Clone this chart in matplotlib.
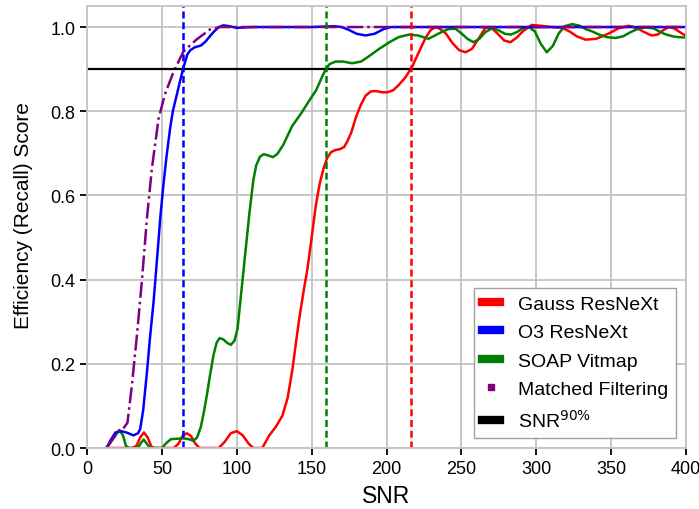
import matplotlib
matplotlib.use("Agg")
import matplotlib.pyplot as plt
from matplotlib.lines import Line2D

plt.rcParams['font.family'] = ['Liberation Sans', 'DejaVu Sans']

# Gauss ResNeXt (red)
gauss_x = [13, 30, 33, 35.5, 38, 40.5, 43, 45, 58, 61, 64, 66.7, 69.5, 72, 75, 88, 92, 96, 100,
           104, 108, 111, 117, 121.7, 126, 130.5, 134, 137.2, 139.5, 141.7, 144.5, 147.2, 150,
           152.8, 155.5, 158, 160.5, 163, 166, 169, 171.7, 174, 176.5, 179.5, 182.8, 186, 189.5,
           193, 197, 200.6, 204.5, 208.3, 212.5, 217, 221.5, 226, 229.5, 232.8, 236, 239.5, 244,
           248.5, 252.8, 257, 261, 266, 270, 274, 278.5, 282.8, 287, 291, 297, 303, 310, 317, 322,
           327, 332.8, 340, 348, 355, 361.7, 367, 372, 377, 381, 384.5, 388.3, 392, 395, 398, 400]
gauss_y = [0, 0, 0.005, 0.025, 0.037, 0.025, 0.003, 0, 0, 0.01, 0.03, 0.035, 0.028, 0.012, 0, 0,
           0.015, 0.035, 0.04, 0.03, 0.01, 0, 0, 0.03, 0.05, 0.077, 0.12, 0.188, 0.25, 0.307, 0.37,
           0.426, 0.50, 0.577, 0.63, 0.665, 0.69, 0.703, 0.708, 0.71, 0.715, 0.73, 0.75, 0.785,
           0.815, 0.837, 0.847, 0.848, 0.845, 0.845, 0.85, 0.863, 0.88, 0.905, 0.94, 0.974, 0.993,
           1.0, 0.995, 0.985, 0.962, 0.945, 0.94, 0.948, 0.97, 0.998, 0.998, 0.985, 0.968, 0.964,
           0.975, 0.99, 1.005, 1.003, 1.0, 0.998, 0.99, 0.978, 0.97, 0.972, 0.984, 0.997, 1.003,
           0.998, 0.988, 0.98, 0.982, 0.992, 1.0, 0.997, 0.99, 0.983, 0.98]

# O3 ResNeXt (blue)
o3_x = [13, 16, 19, 23, 27, 31, 34, 35.5, 37.5, 40, 42, 44.5, 47, 49, 51, 53, 55.5, 57.3, 60, 62,
        64.5, 67, 69, 72, 76, 79, 82, 85, 88, 91, 95, 100, 110, 130, 150, 165, 170, 175, 180,
        186, 192, 198, 203, 210, 250, 300, 350, 400]
o3_y = [0, 0.02, 0.037, 0.04, 0.036, 0.03, 0.035, 0.045, 0.09, 0.18, 0.26, 0.35, 0.46, 0.55, 0.625,
        0.69, 0.76, 0.8, 0.84, 0.87, 0.905, 0.935, 0.945, 0.952, 0.956, 0.965, 0.978, 0.99, 1.0,
        1.004, 1.002, 0.998, 1.0, 1.0, 1.0, 1.002, 1.0, 0.993, 0.984, 0.98, 0.984, 0.995, 1.0,
        1.0, 1.0, 1.0, 1.0, 1.0]

# SOAP Vitmap (green)
soap_x = [13, 17, 21.6, 24, 26, 28, 34, 36, 37.8, 40, 42, 50, 53, 56, 60, 64, 68, 71, 73.5, 76, 78,
          80, 82, 84.4, 86.5, 88.5, 91, 93.5, 96, 98.5, 100.5, 103, 106, 108.5, 111, 113, 115.5,
          118, 121, 124, 127, 131, 137, 143, 148, 153, 157, 159.5, 162, 166, 171, 177, 183, 188,
          195, 202, 208, 215, 221, 228, 235, 241, 246, 250, 254, 258, 262, 266, 270.5, 275, 279,
          283, 287, 291, 295, 299, 303, 307, 311, 315, 319, 324, 329, 333, 337, 342, 347, 353,
          358, 363, 368, 373, 378, 382, 386, 391, 395, 400]
soap_y = [0, 0.02, 0.043, 0.03, 0.005, 0, 0, 0.012, 0.02, 0.01, 0, 0, 0.012, 0.021, 0.022, 0.023,
          0.021, 0.017, 0.025, 0.05, 0.085, 0.125, 0.17, 0.22, 0.25, 0.261, 0.258, 0.25, 0.245,
          0.255, 0.283, 0.37, 0.474, 0.56, 0.635, 0.672, 0.692, 0.698, 0.695, 0.691, 0.698, 0.72,
          0.765, 0.795, 0.823, 0.85, 0.882, 0.9, 0.912, 0.918, 0.918, 0.914, 0.918, 0.93, 0.948,
          0.964, 0.976, 0.982, 0.98, 0.972, 0.985, 0.995, 0.996, 0.985, 0.972, 0.964, 0.972,
          0.988, 0.997, 0.992, 0.984, 0.982, 0.988, 0.997, 1.0, 0.99, 0.96, 0.94, 0.955, 0.985,
          1.002, 1.007, 1.003, 0.995, 0.99, 0.982, 0.976, 0.974, 0.978, 0.988, 0.996, 0.999,
          0.997, 0.99, 0.983, 0.978, 0.976, 0.975]

# Matched Filtering (purple)
mf_x = [13, 17, 21, 24, 27, 30, 33.3, 36.7, 40, 43.3, 47.8, 52, 57.8, 64.4, 73, 82, 89, 100,
        150, 200, 250, 300, 350, 400]
mf_y = [0, 0.02, 0.04, 0.045, 0.06, 0.15, 0.267, 0.40, 0.545, 0.664, 0.783, 0.84, 0.894, 0.942,
        0.97, 0.994, 1.0, 1.0, 1.0, 1.0, 1.0, 1.0, 1.0, 1.0]

# SNR at 90% recall for each network
snr90 = {'red': 216.5, 'blue': 64, 'green': 159.5}
labels = ['Gauss ResNeXt', 'O3 ResNeXt', 'SOAP Vitmap', 'Matched Filtering', 'SNR$^{90\\%}$']

fig = plt.figure(figsize=(6.99, 5.10), dpi=100)
ax = fig.add_axes([0.1245, 0.1196, 0.857, 0.8667])

lw = 1.8
ax.plot(gauss_x, gauss_y, color='red', lw=lw)
ax.plot(soap_x, soap_y, color='green', lw=lw)
ax.plot(o3_x, o3_y, color='blue', lw=lw)
ax.plot(mf_x, mf_y, color='purple', lw=lw, linestyle='-.')

ax.axhline(0.9, color='black', lw=1.6)
for c, v in snr90.items():
    ax.axvline(v, color=c, lw=1.8, linestyle=(0, (2.8, 1.5)))

ax.set_xlim(0, 400)
ax.set_ylim(0, 1.05)
ax.set_xticks(range(0, 401, 50))
ax.set_yticks([0, 0.2, 0.4, 0.6, 0.8, 1.0])
ax.grid(True, color='#c4c4c4', lw=1.3)
ax.set_axisbelow(True)
for s in ax.spines.values():
    s.set_color('#c4c4c4')
    s.set_linewidth(1.3)
ax.tick_params(labelsize=13, length=5, width=1.3, color='black')

ax.set_xlabel('SNR', fontsize=16.5, labelpad=5)
ax.set_ylabel('Efficiency (Recall) Score', fontsize=15)
ax.yaxis.set_label_coords(-0.091, 0.529)

handles = [Line2D([0], [0], color='red', lw=6),
           Line2D([0], [0], color='blue', lw=6),
           Line2D([0], [0], color='green', lw=6),
           Line2D([0], [0], color='purple', marker='s', markersize=5, linestyle='none'),
           Line2D([0], [0], color='black', lw=6)]
leg = ax.legend(handles, labels, loc='lower right', fontsize=14, handlelength=0.93,
                handletextpad=0.93, labelspacing=0.55, fancybox=False, edgecolor='#a0a0a0',
                framealpha=1.0)

fig.savefig('out.png', dpi=100)
